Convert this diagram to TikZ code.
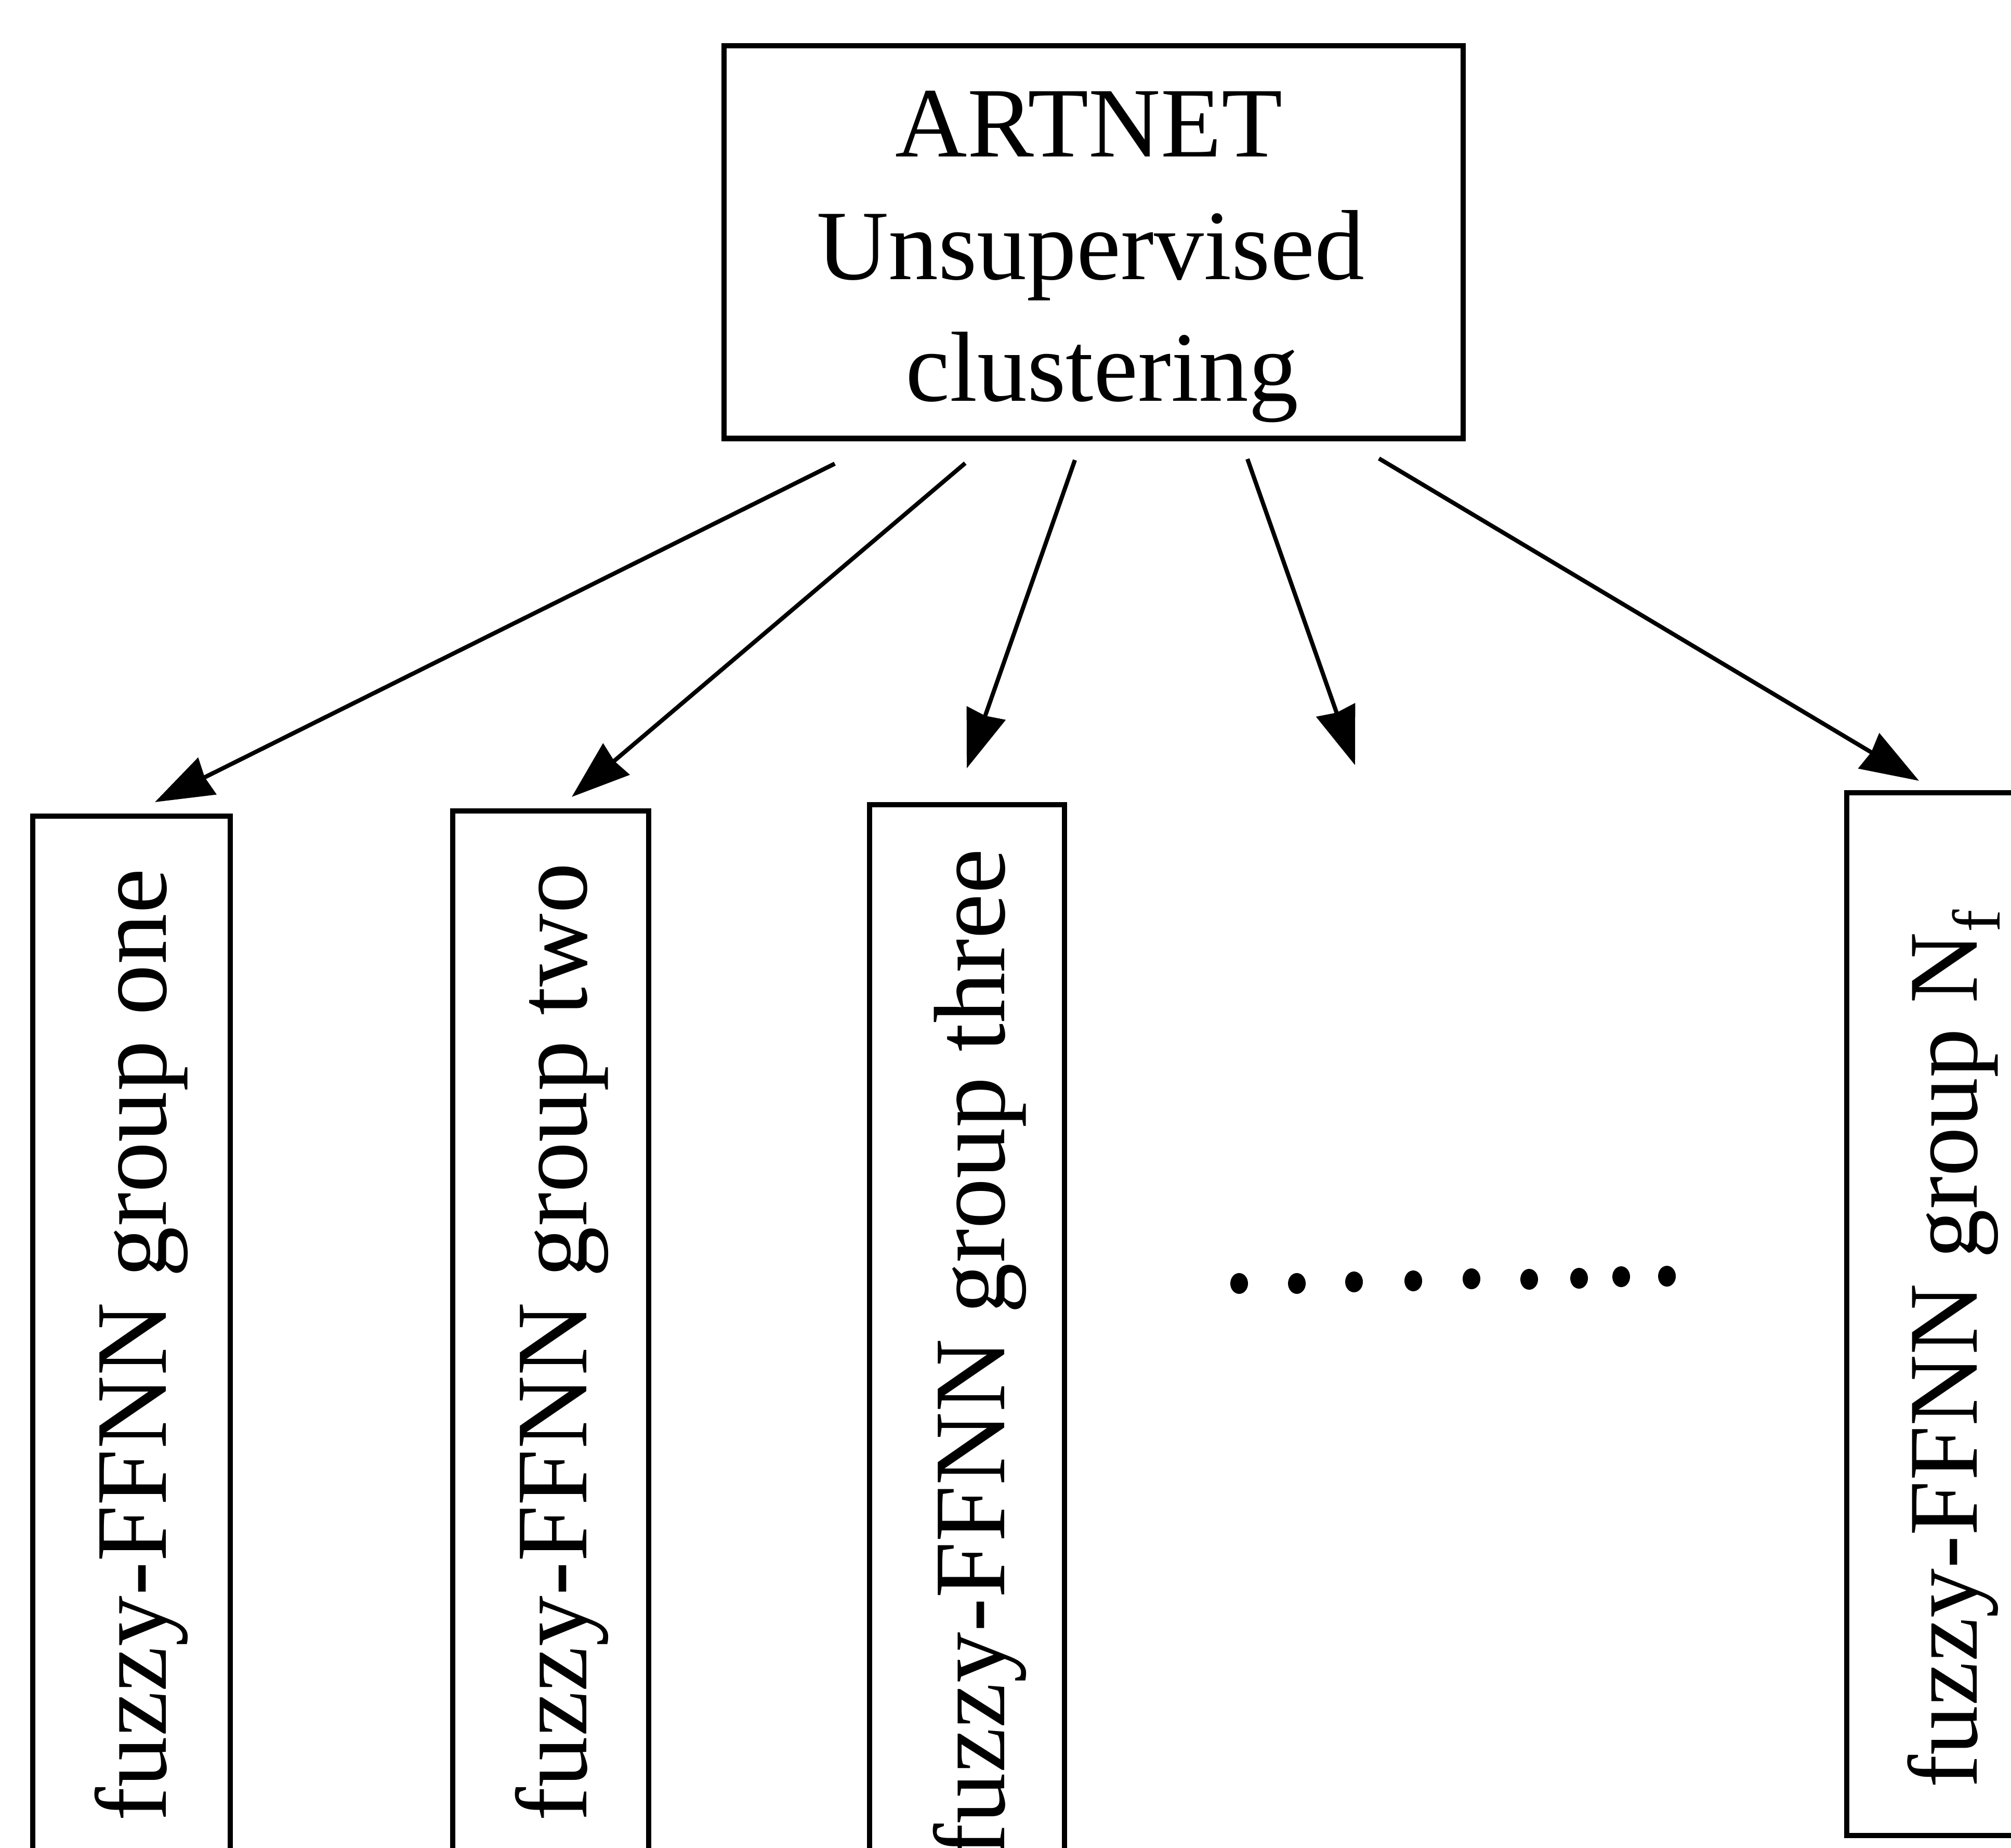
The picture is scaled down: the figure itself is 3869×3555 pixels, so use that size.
\documentclass[tikz,border=0pt]{standalone}
\usepackage{fontspec}
\setmainfont{Liberation Serif}
\usetikzlibrary{arrows.meta}
\begin{document}
\begin{tikzpicture}[x=0.01cm, y=-0.01cm,
  frame/.style={draw, line width=2.9pt, rectangle, inner sep=0pt, outer sep=0pt},
  headtext/.style={font=\fontsize{54.5pt}{66pt}\selectfont, inner sep=0pt, anchor=base},
  grouptext/.style={font=\fontsize{55.5pt}{66pt}\selectfont, inner sep=0pt, rotate=90, anchor=base west},
  link/.style={line width=2.3pt, -{Stealth[length=1.12cm, width=0.78cm, inset=0.05cm]}}]
\useasboundingbox (0,0) rectangle (3869,3555);
\clip (0,0) rectangle (3869,3555);

% clustering stage
\node[frame, minimum width=14.21cm, minimum height=7.55cm, anchor=north west] (art) at (1393,88) {};
\node[headtext] (l1) at (2095,302) {ARTNET};
\node[headtext] (l2) at (2098,538) {Unsupervised};
\node[headtext] (l3) at (2120,772) {clustering};

% fuzzy-FFNN groups (lower ends run off the page)
\node[frame, minimum width=3.80cm, minimum height=22cm, anchor=north west] (g1) at (63,1570) {};
\node[frame, minimum width=3.77cm, minimum height=22cm, anchor=north west] (g2) at (871,1560) {};
\node[frame, minimum width=3.75cm, minimum height=22cm, anchor=north west] (g3) at (1673,1548) {};
\node[frame, minimum width=4.00cm, minimum height=20.05cm, anchor=north west] (gn) at (3553,1525) {};

\node[grouptext] (n1) at (319,3504) {fuzzy-FFNN group one};
\node[grouptext] (n2) at (1128,3504) {fuzzy-FFNN group two};
\node[grouptext] (n3) at (1932,3574) {fuzzy-FFNN group three};
\node[grouptext, font=\fontsize{54pt}{66pt}\selectfont] (nn) at (3803,3440)
  {fuzzy-FFNN group N\raisebox{-12.5pt}{\fontsize{37pt}{37pt}\selectfont f}};

% connectors from the clustering stage
\coordinate (s1) at (1606,892);  \coordinate (e1) at (298,1543);
\coordinate (s2) at (1857,891);  \coordinate (e2) at (1100,1533);
\coordinate (s3) at (2068,885);  \coordinate (e3) at (1860,1478);
\coordinate (s4) at (2400,883);  \coordinate (e4) at (2607,1472);
\coordinate (s5) at (2653,882);  \coordinate (e5) at (3692,1502);
\foreach \i in {1,...,5} \draw[link] (s\i) -- (e\i);

% ellipsis between group three and group N_f
\foreach \px/\py in {2384/2469, 2495/2469, 2605/2466, 2719/2464, 2831/2460,
                     2942/2461, 3038/2459, 3119/2456, 3207/2455}
  \fill (\px,\py) ellipse[x radius=0.17cm, y radius=0.2cm];
\end{tikzpicture}
\end{document}
